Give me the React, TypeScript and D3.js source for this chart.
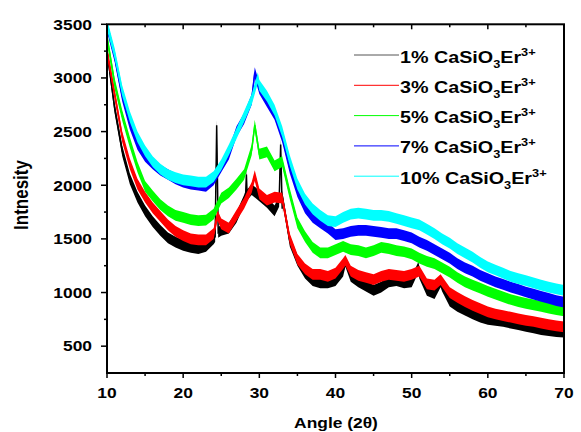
import { useEffect, useRef } from "react"
import * as d3 from "d3"

// 2θ grid of the read-off values (one reading per degree)
const angles = d3.range(10, 71)

const labels = ["1%", "3%", "5%", "7%", "10%"]
const colors = ["#000000", "#ff0000", "#00ff00", "#0000ff", "#00ffff"]

const er1 = [
  3250, 2720, 2320, 2060, 1890, 1760, 1660, 1580, 1510, 1470, 1440, 1420, 1410, 1430, 1500, 1580, 1600, 1700, 1860, 1960,
  1900, 1840, 1760, 1780, 1480, 1300, 1180, 1110, 1090, 1090, 1110, 1200, 1150, 1100, 1060, 1020, 1050, 1100, 1110, 1090,
  1100, 1180, 1020, 990, 1060, 920, 870, 835, 800, 770, 750, 740, 730, 715, 700, 685, 670, 655, 645, 635, 630,
]
const er3 = [
  3250, 2850, 2450, 2200, 2010, 1890, 1790, 1710, 1630, 1570, 1530, 1500, 1490, 1490, 1550, 1640, 1600, 1720, 1830, 1980,
  1920, 1860, 1890, 1880, 1500, 1310, 1220, 1170, 1170, 1150, 1180, 1270, 1200, 1160, 1140, 1120, 1150, 1170, 1160, 1150,
  1170, 1200, 1080, 1070, 1100, 1000, 955, 915, 880, 850, 820, 800, 785, 770, 755, 740, 730, 715, 700, 690, 680,
]
const er5 = [
  3380, 2950, 2650, 2400, 2170, 1990, 1900, 1820, 1760, 1720, 1700, 1680, 1670, 1675, 1730, 1880, 1930, 2010, 2100, 2330,
  2290, 2310, 2180, 2220, 1920, 1650, 1520, 1420, 1370, 1370, 1400, 1430, 1400, 1390, 1370, 1390, 1420, 1410, 1390, 1380,
  1360, 1320, 1290, 1270, 1230, 1190, 1140, 1100, 1070, 1040, 1010, 985, 960, 935, 915, 900, 885, 870, 855, 840, 830,
]
const er7 = [
  3480, 3200, 2830, 2570, 2380, 2270, 2200, 2140, 2100, 2060, 2030, 2010, 2000, 1990, 2050, 2170, 2290, 2500, 2620, 2800,
  2900, 2780, 2660, 2450, 2160, 1940, 1790, 1700, 1650, 1600, 1540, 1550, 1570, 1580, 1580, 1570, 1560, 1550, 1550, 1530,
  1510, 1470, 1440, 1400, 1360, 1320, 1270, 1230, 1200, 1160, 1130, 1100, 1075, 1050, 1030, 1005, 985, 965, 945, 925, 910,
]
const er10 = [
  3500, 3230, 2880, 2640, 2450, 2320, 2220, 2150, 2100, 2070, 2050, 2040, 2030, 2030, 2080, 2190, 2330, 2480, 2640, 2800,
  2930, 2830, 2700, 2500, 2230, 2010, 1870, 1780, 1720, 1670, 1660, 1700, 1730, 1740, 1730, 1720, 1720, 1710, 1690, 1670,
  1650, 1630, 1590, 1550, 1500, 1460, 1410, 1370, 1330, 1280, 1240, 1210, 1180, 1150, 1130, 1110, 1090, 1070, 1050, 1035, 1020,
]

// sharp reflections sitting on top of the broad hump [angle, intensity]
const peaks1: [number, number][] = [
  [24.2, 1520], [24.4, 2560], [24.6, 1560], [28.2, 1900], [28.3, 2100], [28.4, 1910],
  [32.6, 1850], [32.8, 2380], [33.0, 1900], [41.3, 1290], [50.9, 1240], [53.8, 1100],
]
const peaks3: [number, number][] = [[24.5, 1720], [29.4, 2090], [41.3, 1300], [53.8, 1120]]
const peaks5: [number, number][] = [[29.4, 2560]]
const peaks7: [number, number][] = [[29.4, 3050]]
const peaks10: [number, number][] = [[29.8, 3000]]

// half-height of the noise band, in counts
const noise = [50, 50, 50, 50, 50]

const values = [er1, er3, er5, er7, er10]
const peaks = [peaks1, peaks3, peaks5, peaks7, peaks10]

const xTicks = [10, 20, 30, 40, 50, 60, 70]
const xMinor = [15, 25, 35, 45, 55, 65]
const yTicks = [500, 1000, 1500, 2000, 2500, 3000, 3500]
const yMinor = [750, 1250, 1750, 2250, 2750, 3250]

const FONT = "'Liberation Sans', Arial, Helvetica, sans-serif"
const SX = 1.16

export default function App() {
  const svgRef = useRef<SVGSVGElement>(null)

  useEffect(() => {
    const svg = d3.select(svgRef.current)
    svg.selectAll("*").remove()

    const left = 107
    const right = 564
    const top = 24.3
    const bottom = 373

    const x = d3.scaleLinear().domain([10, 70]).range([left, right])
    const y = d3.scaleLinear().domain([250, 3500]).range([bottom, top])

    svg
      .append("defs")
      .append("clipPath")
      .attr("id", "plot")
      .append("rect")
      .attr("x", left)
      .attr("y", top)
      .attr("width", right - left)
      .attr("height", bottom - top)

    const plot = svg.append("g").attr("clip-path", "url(#plot)")

    values.forEach((vals, i) => {
      const pts: [number, number][] = angles.map((a, j) => [a, vals[j]] as [number, number])
      const merged = pts.concat(peaks[i]).sort((a, b) => a[0] - b[0])
      const band = noise[i]

      const area = d3
        .area<[number, number]>()
        .x((d) => x(d[0]))
        .y0((d) => y(d[1] - band))
        .y1((d) => y(d[1] + band))
      const line = d3
        .line<[number, number]>()
        .x((d) => x(d[0]))
        .y((d) => y(d[1]))

      plot.append("path").datum(merged).attr("d", area).attr("fill", colors[i])
      plot
        .append("path")
        .datum(merged)
        .attr("d", line)
        .attr("fill", "none")
        .attr("stroke", colors[i])
        .attr("stroke-width", 1.5)
    })

    // frame
    svg
      .append("rect")
      .attr("x", left)
      .attr("y", top)
      .attr("width", right - left)
      .attr("height", bottom - top)
      .attr("fill", "none")
      .attr("stroke", "#000")
      .attr("stroke-width", 2)

    const axes = svg.append("g").attr("stroke", "#000").attr("stroke-width", 1.5)

    // bottom (outward) and top (inward) ticks
    xTicks.forEach((t) => {
      axes.append("line").attr("x1", x(t)).attr("x2", x(t)).attr("y1", bottom).attr("y2", bottom + 5)
      axes.append("line").attr("x1", x(t)).attr("x2", x(t)).attr("y1", top).attr("y2", top + 5)
    })
    xMinor.forEach((t) => {
      axes.append("line").attr("x1", x(t)).attr("x2", x(t)).attr("y1", bottom).attr("y2", bottom + 3)
      axes.append("line").attr("x1", x(t)).attr("x2", x(t)).attr("y1", top).attr("y2", top + 3)
    })
    // left ticks (outward)
    yTicks.forEach((t) => {
      axes.append("line").attr("x1", left - 6).attr("x2", left).attr("y1", y(t)).attr("y2", y(t))
    })
    yMinor.forEach((t) => {
      axes.append("line").attr("x1", left - 3).attr("x2", left).attr("y1", y(t)).attr("y2", y(t))
    })

    const text = svg.append("g").attr("font-family", FONT).attr("font-weight", "bold").attr("fill", "#000")

    xTicks.forEach((t) => {
      text
        .append("text")
        .attr("transform", `translate(${x(t)},398) scale(${SX},1)`)
        .attr("text-anchor", "middle")
        .attr("font-size", 15)
        .text(t)
    })
    yTicks.forEach((t) => {
      text
        .append("text")
        .attr("transform", `translate(92,${y(t) + 5.3}) scale(${SX},1)`)
        .attr("text-anchor", "end")
        .attr("font-size", 15)
        .text(t)
    })

    text
      .append("text")
      .attr("transform", `translate(336,428) scale(${SX},1)`)
      .attr("text-anchor", "middle")
      .attr("font-size", 15)
      .text("Angle (2θ)")

    text
      .append("text")
      .attr("transform", "translate(28,195) rotate(-90) scale(1,1.18)")
      .attr("text-anchor", "middle")
      .attr("font-size", 17)
      .text("Intnesity")

    // legend
    labels.forEach((lab, i) => {
      const ly = 55 + i * 30.3
      svg
        .append("line")
        .attr("x1", 354)
        .attr("x2", 399)
        .attr("y1", ly)
        .attr("y2", ly)
        .attr("stroke", i === 0 ? "#555" : colors[i])
        .attr("stroke-width", 1)
      const t = text
        .append("text")
        .attr("transform", `translate(400,${ly + 7.5}) scale(${SX},1)`)
        .attr("font-size", 17)
      t.append("tspan").text(`${lab} CaSiO`)
      t.append("tspan").attr("font-size", 11).attr("dy", 5).text("3")
      t.append("tspan").attr("dy", -5).text("Er")
      t.append("tspan").attr("font-size", 11).attr("dy", -7).text("3+")
    })
  }, [])

  return (
    <svg
      ref={svgRef}
      width={581}
      height={432}
      style={{ position: "absolute", left: 0, top: 0, background: "#fff", display: "block" }}
    />
  )
}
